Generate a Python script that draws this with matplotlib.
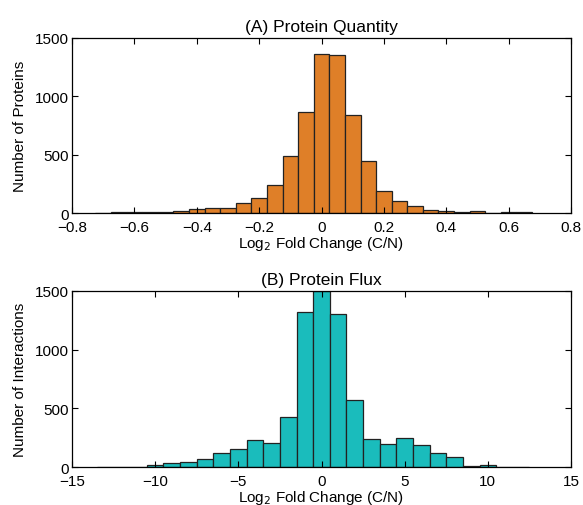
import numpy as np
import matplotlib.pyplot as plt

plt.rcParams['font.family'] = ['Liberation Sans', 'DejaVu Sans']

# (A) protein quantity: bin centres (log2 fold change) and counts
qty_centers = [-0.7, -0.65, -0.6, -0.55, -0.5, -0.45, -0.4, -0.35, -0.3, -0.25,
               -0.2, -0.15, -0.1, -0.05, 0.0, 0.05, 0.1, 0.15, 0.2, 0.25,
               0.3, 0.35, 0.4, 0.45, 0.5, 0.55, 0.6, 0.65]
qty_counts = [4, 7, 7, 12, 5, 14, 31, 40, 40, 82,
              133, 243, 492, 866, 1364, 1356, 838, 442, 192, 102,
              57, 23, 14, 6, 17, 2, 8, 8]

# (B) protein flux: bin centres and counts
flux_centers = [-13, -12, -11, -10, -9, -8, -7, -6, -5, -4, -3, -2, -1,
                0, 1, 2, 3, 4, 5, 6, 7, 8, 9, 10, 11, 12]
flux_counts = [6, 6, 6, 17, 34, 48, 71, 122, 153, 235, 204, 430, 1316,
               1500, 1302, 572, 241, 195, 246, 187, 122, 85, 14, 17, 6, 6]

fig = plt.figure(figsize=(5.83, 5.06), dpi=100)
ax1 = fig.add_axes([0.1235, 0.577, 0.856, 0.346])
ax2 = fig.add_axes([0.1235, 0.0745, 0.856, 0.349])

ax1.bar(qty_centers, qty_counts, width=0.05, color='#DF7F28',
        edgecolor='#222222', linewidth=0.9)
ax1.set_xlim(-0.8, 0.8)
ax1.set_ylim(0, 1500)
ax1.set_xticks(np.arange(-0.8, 0.81, 0.2))
ax1.set_xticklabels(['\u22120.8', '\u22120.6', '\u22120.4', '\u22120.2', '0',
                     '0.2', '0.4', '0.6', '0.8'])
ax1.set_title('(A) Protein Quantity', fontsize=12.5, pad=5)
ax1.set_ylabel('Number of Proteins', fontsize=11)
ax1.set_xlabel('Log$_2$ Fold Change (C/N)', fontsize=11, labelpad=0)

ax2.bar(flux_centers, flux_counts, width=1.0, color='#1ABCBC',
        edgecolor='#222222', linewidth=0.9)
ax2.set_xlim(-15, 15)
ax2.set_ylim(0, 1500)
ax2.set_xticks([-15, -10, -5, 0, 5, 10, 15])
ax2.set_xticklabels(['\u221215', '\u221210', '\u22125', '0', '5', '10', '15'])
ax2.set_title('(B) Protein Flux', fontsize=12.5, pad=5)
ax2.set_ylabel('Number of Interactions', fontsize=11)
ax2.set_xlabel('Log$_2$ Fold Change (C/N)', fontsize=11, labelpad=0)

for ax in (ax1, ax2):
    ax.set_yticks([0, 500, 1000, 1500])
    ax.tick_params(direction='in', top=True, right=True, labelsize=11,
                   length=4, width=0.8, pad=2)
    ax.tick_params(axis='x', pad=5)
    ax.yaxis.set_label_coords(-0.09, 0.5)
    for s in ax.spines.values():
        s.set_linewidth(0.9)

fig.savefig('out.png', dpi=100)
